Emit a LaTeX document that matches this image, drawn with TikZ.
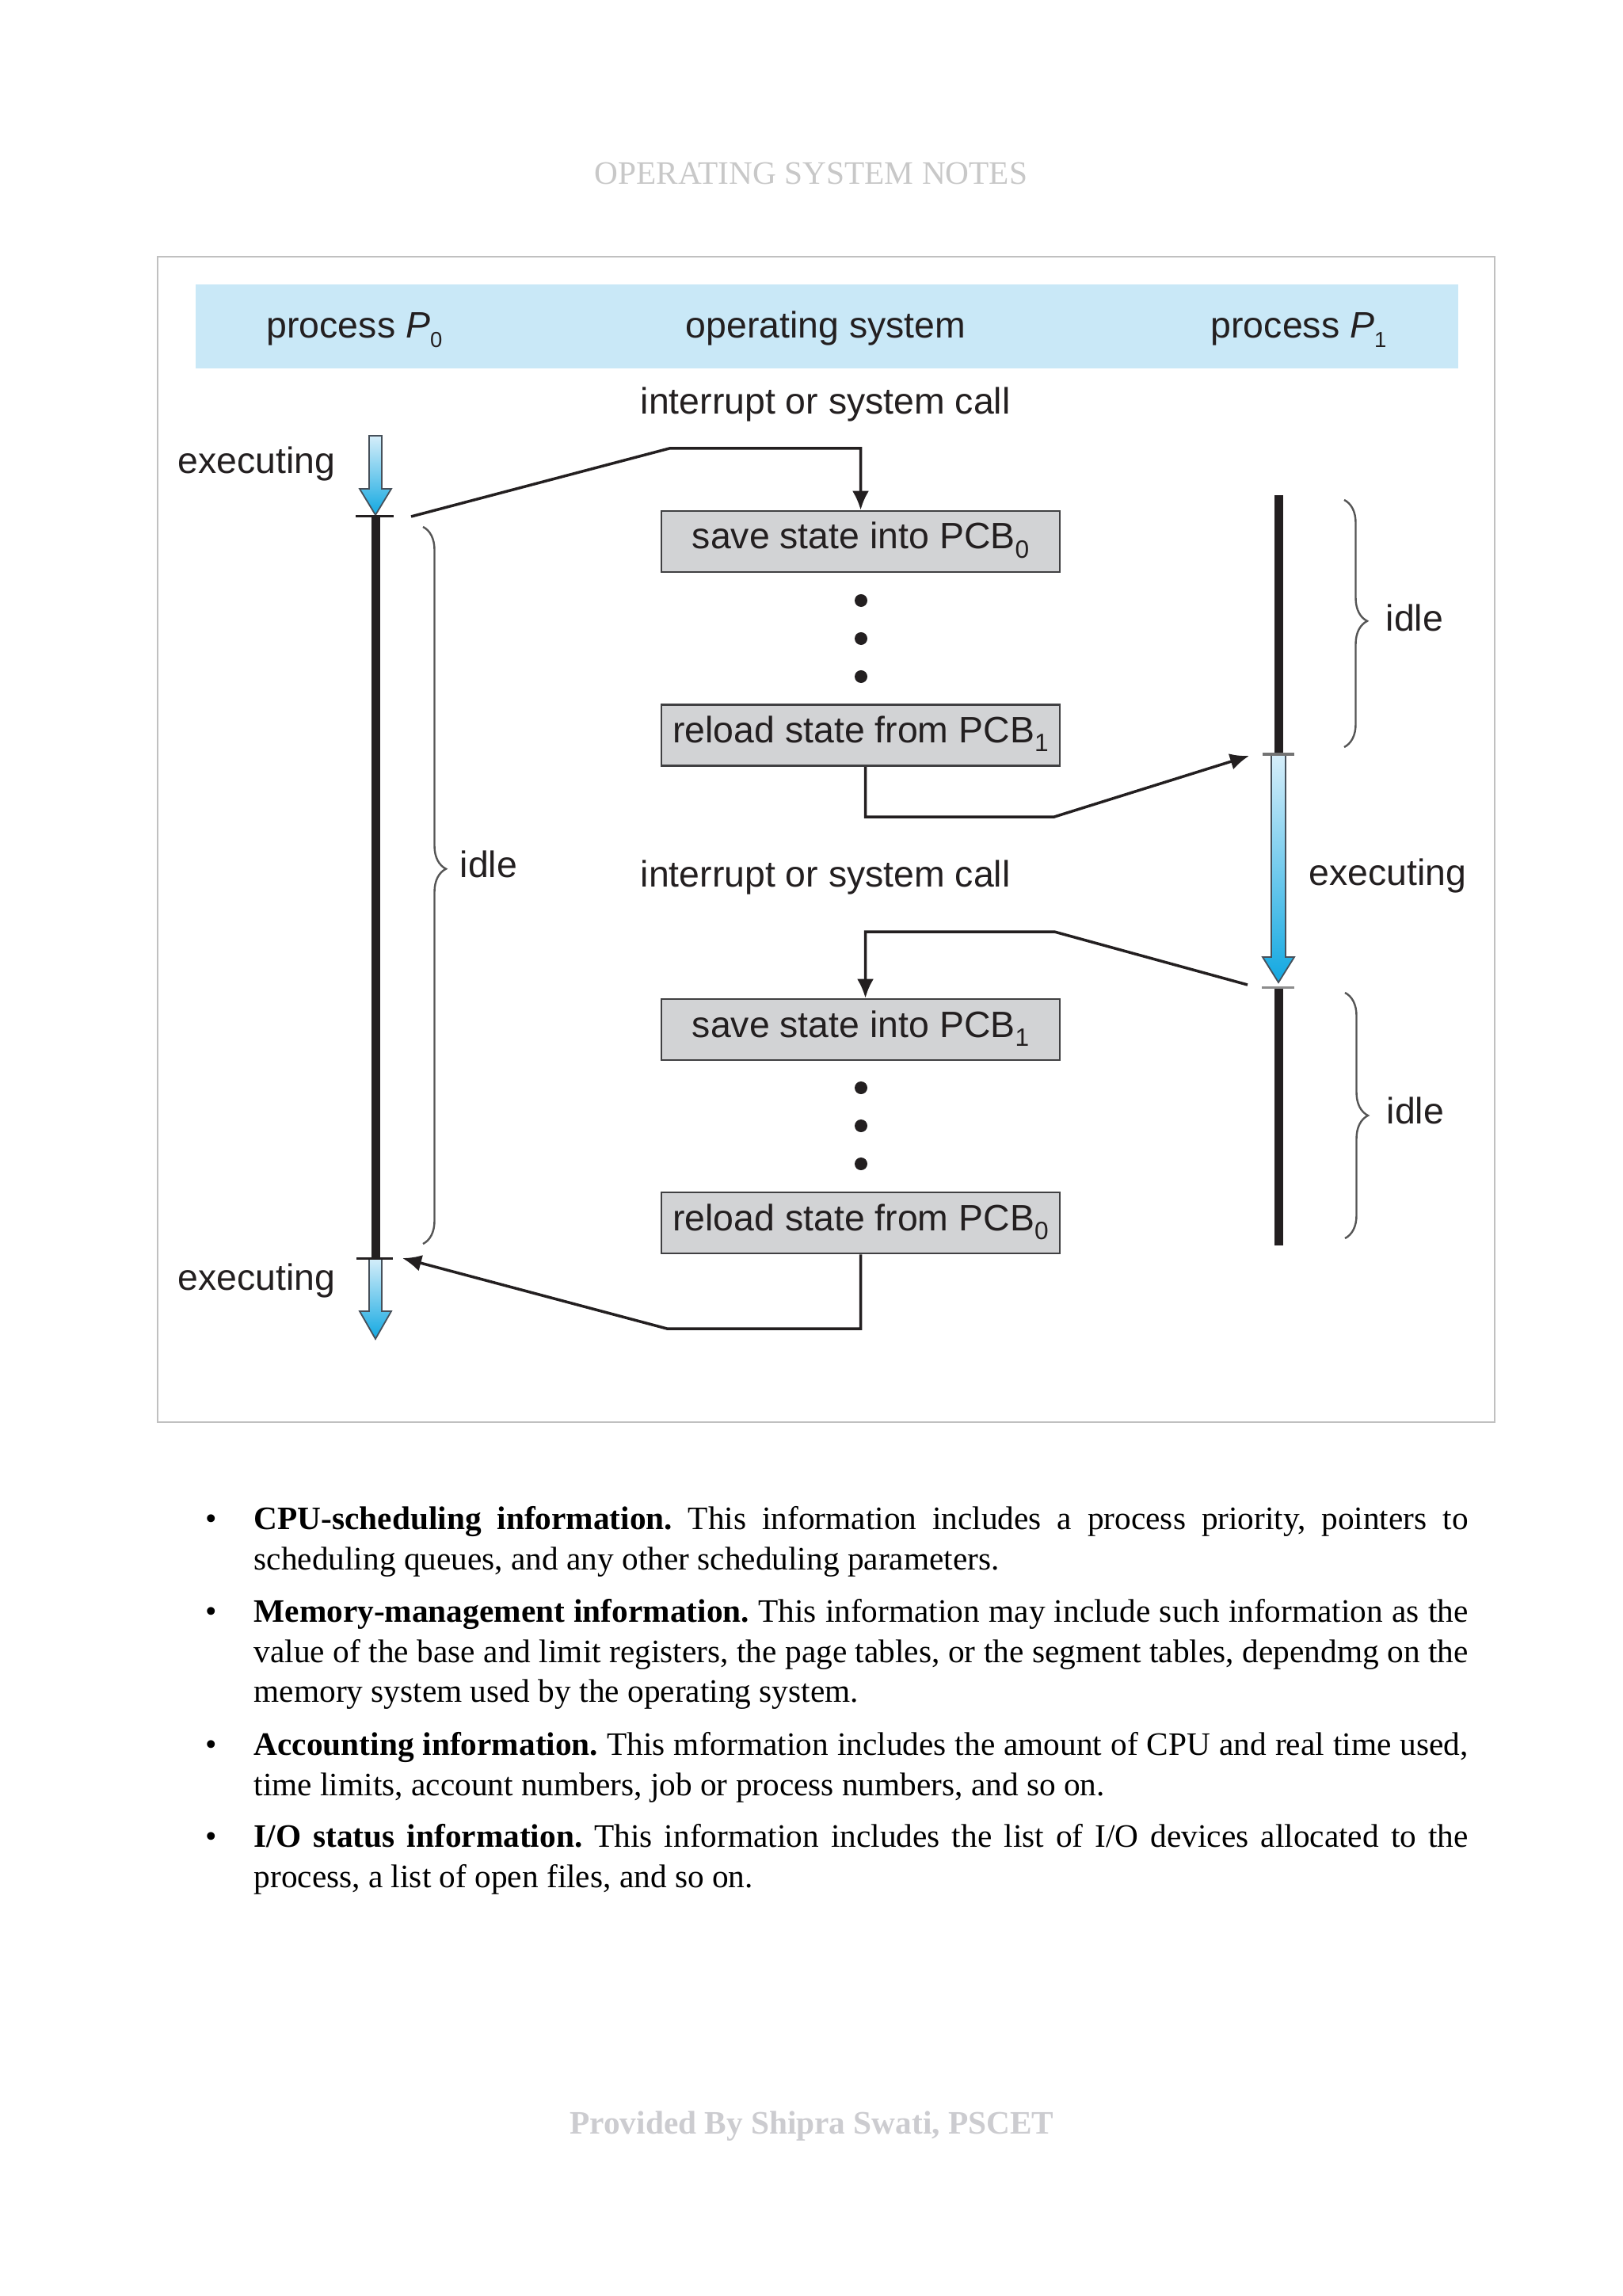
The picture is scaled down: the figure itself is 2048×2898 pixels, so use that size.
\documentclass[tikz,border=0pt]{standalone}
\usepackage{fontspec}
\setmainfont{Liberation Serif}
\newfontfamily\figfont{Liberation Sans}
\usetikzlibrary{arrows.meta,decorations.pathreplacing}
\frenchspacing
\definecolor{figblack}{RGB}{35,31,32}
\definecolor{bandblue}{RGB}{201,232,247}
\definecolor{boxfill}{RGB}{210,211,213}
\definecolor{boxedge}{RGB}{64,64,66}
\definecolor{framegray}{RGB}{192,192,192}
\definecolor{hdrgray}{RGB}{200,200,200}
\definecolor{ftrgray}{RGB}{204,204,208}
\definecolor{bluetop}{RGB}{214,238,250}
\definecolor{bluebot}{RGB}{18,168,225}
\definecolor{arrowedge}{RGB}{70,80,90}
\definecolor{bracegray}{RGB}{85,85,85}
\newcommand{\mysub}[2]{\raisebox{-0.24em}{\fontsize{#1}{#1}\selectfont #2}}
% block arrow: x, ytop, yhead, ytip, half shaft width
\newcommand{\bluearrow}[5]{%
  \shadedraw[top color=bluetop, bottom color=bluebot, draw=arrowedge, line width=0.018cm, line join=miter]
    ({#1-#5},#2) -- ({#1+#5},#2) -- ({#1+#5},#3) -- ({#1+20},#3) -- (#1,#4)
    -- ({#1-20},#3) -- ({#1-#5},#3) -- cycle;}
\begin{document}
\begin{tikzpicture}[x=0.01cm,y=-0.01cm,
  figtext/.style={font=\figfont\fontsize{13.2pt}{15pt}\selectfont, text=figblack, inner sep=0, anchor=base west},
  pcbbox/.style={draw=boxedge, fill=boxfill, line width=0.025cm, minimum width=5.03cm, minimum height=0.77cm,
    inner sep=0, text height=0.33cm, text depth=0.14cm, font=\figfont\fontsize{13.2pt}{15pt}\selectfont, text=figblack},
  conn/.style={draw=figblack, line width=0.035cm, line join=miter},
  arr/.style={conn, -{Latex[length=0.24cm,width=0.21cm]}},
  timeline/.style={draw=figblack, line width=0.11cm},
  tickmark/.style={line width=0.03cm},
  idlebrace/.style={decorate, decoration={brace, amplitude=0.29cm, aspect=#1}, draw=bracegray, line width=0.024cm},
  bodytext/.style={font=\fontsize{11.75pt}{14.37pt}\selectfont, inner sep=0, align=left, anchor=north west},
  bulletmark/.style={font=\fontsize{11.75pt}{14.37pt}\selectfont, inner sep=0, anchor=base},
]
\path[use as bounding box, fill=white] (0,0) rectangle (2048,2898);

% page header / footer
\node[font=\fontsize{11.75pt}{14pt}\selectfont, text=hdrgray, inner sep=0, anchor=base] (hdr) at (1024,233) {OPERATING SYSTEM NOTES};
\node[font=\bfseries\fontsize{11.75pt}{14pt}\selectfont, text=ftrgray, inner sep=0, anchor=base] (ftr) at (1025,2693) {Provided By Shipra Swati, PSCET};

% figure frame and header band
\draw[framegray, line width=0.02cm] (199,324) rectangle (1887,1795);
\fill[bandblue] (247,359) rectangle (1841,465);
\node[figtext] (hp0) at (336,427) {process \textit{P}\mysub{7.8pt}{0}};
\node[figtext] (hos) at (865,427) {operating system};
\node[figtext] (hp1) at (1528,427) {process \textit{P}\mysub{7.8pt}{1}};

% labels
\node[figtext] (irq1) at (808,523) {interrupt or system call};
\node[figtext] (irq2) at (808,1119) {interrupt or system call};
\node[figtext] (exe1) at (224,598) {executing};
\node[figtext] (exe2) at (224,1628) {executing};
\node[figtext] (exe3) at (1652,1117) {executing};
\node[figtext] (idle1) at (580,1107) {idle};
\node[figtext] (idle2) at (1749,797) {idle};
\node[figtext] (idle3) at (1750,1418) {idle};

% OS boxes
\node[pcbbox] (save0) at (1086.5,683.5) {save state into PCB\mysub{9pt}{0}};
\node[pcbbox] (reload1) at (1086.5,928) {reload state from PCB\mysub{9pt}{1}};
\node[pcbbox] (save1) at (1086.5,1299.5) {save state into PCB\mysub{9pt}{1}};
\node[pcbbox] (reload0) at (1086.5,1543.5) {reload state from PCB\mysub{9pt}{0}};

% dots
\foreach \yy in {758,806,854,1373,1421,1469}
  \fill[figblack] (1087,\yy) circle[radius=0.08cm];

% timelines
\coordinate (p0out) at (519,652);
\coordinate (p0in) at (508,1588);
\coordinate (p1in) at (1577,954);
\coordinate (p1out) at (1575,1243);
\draw[timeline] (474,652) -- (474,1588);
\draw[timeline] (1614,625) -- (1614,952);
\draw[timeline] (1614,1246) -- (1614,1572);
\bluearrow{474}{550}{617}{650}{8}
\bluearrow{474}{1588}{1655}{1690}{8}
\bluearrow{1614}{952}{1208}{1240}{9}
\draw[tickmark, figblack] (449,652) -- (497,652);
\draw[tickmark, figblack] (450,1588) -- (496,1588);
\draw[tickmark, black!55] (1594,952) -- (1634,952);
\draw[tickmark, black!45] (1593,1246) -- (1634,1246);

% braces
\draw[idlebrace=0.477] (534,665) -- (534,1570);
\draw[idlebrace=0.49] (1697,631) -- (1697,943);
\draw[idlebrace=0.5] (1698,1253) -- (1698,1563);

% connectors
\draw[arr] (p0out) -- (845,566) -| (save0.north);
\draw[arr] ([xshift=0.06cm]reload1.south) |- (1331,1031) -- (p1in);
\draw[arr] (p1out) -- (1331,1176) -| ([xshift=0.06cm]save1.north);
\draw[arr] (reload0.south) |- (842,1677) -- (p0in);

% bullet list
\node[bulletmark] (m1) at (267,1930) {•};
\node[bodytext] (b1) at (320,1894.6) {\strut\makebox[15.32cm][s]{\textbf{CPU-scheduling information.} This information includes a process priority, pointers to}\\
\strut scheduling queues, and any other scheduling parameters.};
\node[bulletmark] (m2) at (267,2047) {•};
\node[bodytext] (b2) at (320,2011.6) {\strut\makebox[15.32cm][s]{\textbf{Memory-management information.} This information may include such information as the}\\
\strut\makebox[15.32cm][s]{value of the base and limit registers, the page tables, or the segment tables, dependmg on the}\\
\strut memory system used by the operating system.};
\node[bulletmark] (m3) at (267,2215) {•};
\node[bodytext] (b3) at (320,2179.6) {\strut\makebox[15.32cm][s]{\textbf{Accounting information.} This mformation includes the amount of CPU and real time used,}\\
\strut time limits, account numbers, job or process numbers, and so on.};
\node[bulletmark] (m4) at (267,2331) {•};
\node[bodytext] (b4) at (320,2295.6) {\strut\makebox[15.32cm][s]{\textbf{I/O status information.} This information includes the list of I/O devices allocated to the}\\
\strut process, a list of open files, and so on.};
\end{tikzpicture}
\end{document}
